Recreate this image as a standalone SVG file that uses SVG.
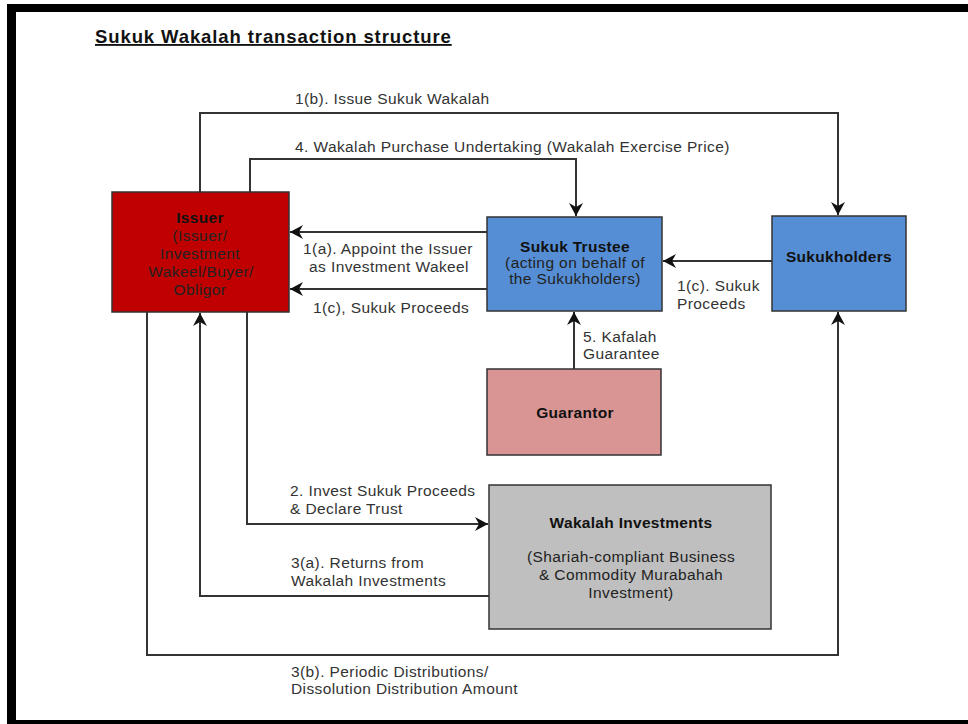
<svg xmlns="http://www.w3.org/2000/svg" width="968" height="724" viewBox="0 0 968 724">
<defs>
<marker id="arr" markerUnits="userSpaceOnUse" markerWidth="16" markerHeight="16" refX="13" refY="8" orient="auto">
<path d="M0,1 L13,8 L0,15 L4,8 Z" fill="#111"/>
</marker>
<style>
text{font-family:"Liberation Sans",Arial,sans-serif;}
.lbl{font-size:15.5px;letter-spacing:0.4px;fill:#333;}
.bx{font-size:15.5px;letter-spacing:0.4px;fill:#222;text-anchor:middle;}
.bt{font-size:15.5px;letter-spacing:0.3px;font-weight:bold;fill:#111;text-anchor:middle;}
.box{stroke:#333;stroke-width:1.5;}
.con{fill:none;stroke:#333;stroke-width:2;marker-end:url(#arr);}
</style>
</defs>
<rect x="7" y="4" width="961" height="720" fill="#000"/>
<rect x="16" y="12" width="952" height="708" fill="#fff"/>
<text x="95" y="43" style="font-size:18.5px;font-weight:bold;letter-spacing:0.9px;fill:#111;text-decoration:underline;">Sukuk Wakalah transaction structure</text>

<g id="connectors">
<path class="con" d="M200,192 V113 H838 V215"/>
<path class="con" d="M250,192 V159 H576 V216"/>
<path class="con" d="M487,232 H290"/>
<path class="con" d="M487,289 H290"/>
<path class="con" d="M772,261 H663"/>
<path class="con" d="M574,369 V312"/>
<path class="con" d="M247,312 V524 H488"/>
<path class="con" d="M489,596 H200 V313"/>
<path class="con" d="M147,312 V655 H838 V312"/>
</g>

<g id="labels">
<text class="lbl" x="295" y="104">1(b). Issue Sukuk Wakalah</text>
<text class="lbl" x="295" y="152">4. Wakalah Purchase Undertaking (Wakalah Exercise Price)</text>
<text class="lbl" x="388" y="254" text-anchor="middle">1(a). Appoint the Issuer</text>
<text class="lbl" x="389" y="272" text-anchor="middle">as Investment Wakeel</text>
<text class="lbl" x="313" y="313">1(c), Sukuk Proceeds</text>
<text class="lbl" x="677" y="291">1(c). Sukuk</text>
<text class="lbl" x="677" y="309">Proceeds</text>
<text class="lbl" x="583" y="342">5. Kafalah</text>
<text class="lbl" x="583" y="359">Guarantee</text>
<text class="lbl" x="290" y="496">2. Invest Sukuk Proceeds</text>
<text class="lbl" x="290" y="514">&amp; Declare Trust</text>
<text class="lbl" x="291" y="568">3(a). Returns from</text>
<text class="lbl" x="291" y="586">Wakalah Investments</text>
<text class="lbl" x="291" y="677">3(b). Periodic Distributions/</text>
<text class="lbl" x="291" y="694">Dissolution Distribution Amount</text>
</g>

<g id="issuer">
<rect class="box" x="112" y="192" width="177" height="120" fill="#C00000"/>
<text class="bt" x="200" y="223">Issuer</text>
<text class="bx" x="200" y="241">(Issuer/</text>
<text class="bx" x="200" y="259">Investment</text>
<text class="bx" x="201" y="277">Wakeel/Buyer/</text>
<text class="bx" x="200" y="295">Obligor</text>
</g>

<g id="trustee">
<rect class="box" x="487" y="217" width="175" height="94" fill="#558ED5"/>
<text class="bt" x="575" y="252">Sukuk Trustee</text>
<text class="bx" x="575" y="268">(acting on behalf of</text>
<text class="bx" x="575" y="284">the Sukukholders)</text>
</g>

<g id="sukukholders">
<rect class="box" x="772" y="216" width="134" height="95" fill="#558ED5"/>
<text class="bt" x="839" y="262">Sukukholders</text>
</g>

<g id="guarantor">
<rect class="box" x="487" y="369" width="174" height="86" fill="#D99594"/>
<text class="bt" x="575" y="418">Guarantor</text>
</g>

<g id="wakalah">
<rect class="box" x="489" y="485" width="282" height="144" fill="#BFBFBF"/>
<text class="bt" x="631" y="528">Wakalah Investments</text>
<text class="bx" x="631" y="562">(Shariah-compliant Business</text>
<text class="bx" x="631" y="580">&amp; Commodity Murabahah</text>
<text class="bx" x="631" y="598">Investment)</text>
</g>
</svg>
